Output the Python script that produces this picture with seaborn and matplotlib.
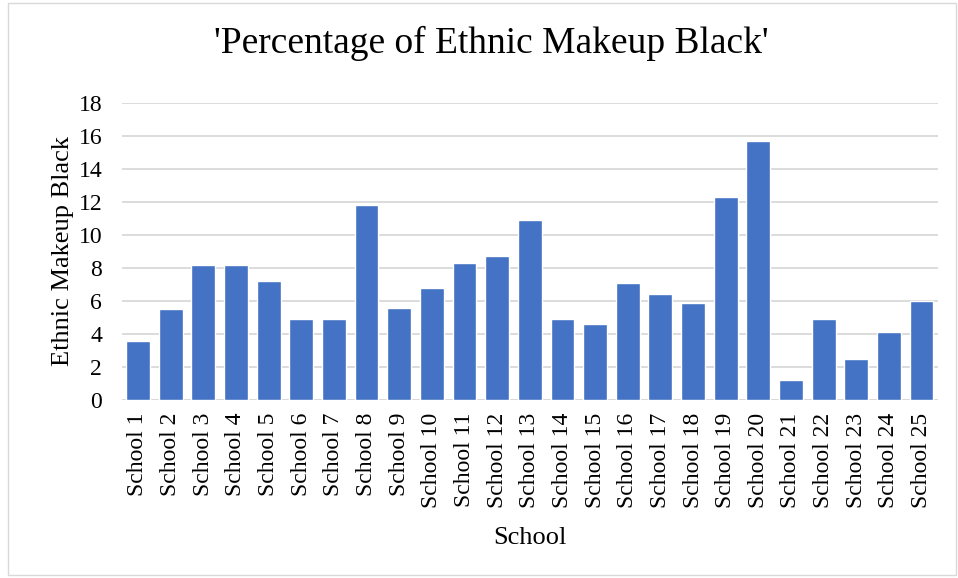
import matplotlib
matplotlib.use("Agg")
import matplotlib.pyplot as plt
import seaborn as sns
import pandas as pd

# Values
schools = [f"School {i}" for i in range(1, 26)]
black_pct = [3.6, 5.5, 8.2, 8.2, 7.2, 4.9, 4.9, 11.8, 5.6, 6.8,
             8.3, 8.7, 10.9, 4.9, 4.6, 7.1, 6.4, 5.9, 12.3, 15.7,
             1.2, 4.9, 2.5, 4.1, 6.0]
y_ticks = [0, 2, 4, 6, 8, 10, 12, 14, 16, 18]

df = pd.DataFrame({"School": schools, "Ethnic Makeup Black": black_pct})

sns.set_style("white")
plt.rcParams["font.family"] = ["Liberation Serif", "DejaVu Serif"]

fig = plt.figure(figsize=(9.58, 5.78), dpi=100)
ax = fig.add_axes([0.127, 0.308, 0.852, 0.514])

sns.barplot(data=df, x="School", y="Ethnic Makeup Black", color="#4472C4",
            width=0.73, saturation=1, ax=ax, zorder=3)

ax.set_ylim(0, 18)
ax.set_yticks(y_ticks)
ax.set_xlim(-0.5, len(schools) - 0.5)
ax.yaxis.grid(True, color="#D9D9D9", linewidth=1.3, zorder=0)
ax.set_axisbelow(True)
for s in ax.spines.values():
    s.set_visible(False)
ax.axhline(0, color="#D9D9D9", linewidth=1.3, zorder=2)

ax.tick_params(axis="both", length=0, labelsize=17, colors="black")
ax.tick_params(axis="y", pad=14)
ax.tick_params(axis="x", pad=9)
plt.setp(ax.get_xticklabels(), rotation=90)

ax.set_xlabel("School", fontsize=19, labelpad=14, color="black")
ax.set_ylabel("Ethnic Makeup Black", fontsize=19, labelpad=3, color="black")
fig.suptitle("'Percentage of Ethnic Makeup Black'", fontsize=27, x=0.513, y=0.955, color="black")

# chart border
fig.patches.append(plt.Rectangle((0.008, 0.005), 0.99, 0.99, transform=fig.transFigure,
                                 fill=False, edgecolor="#D9D9D9", linewidth=1))

fig.savefig("out.png", dpi=100)
